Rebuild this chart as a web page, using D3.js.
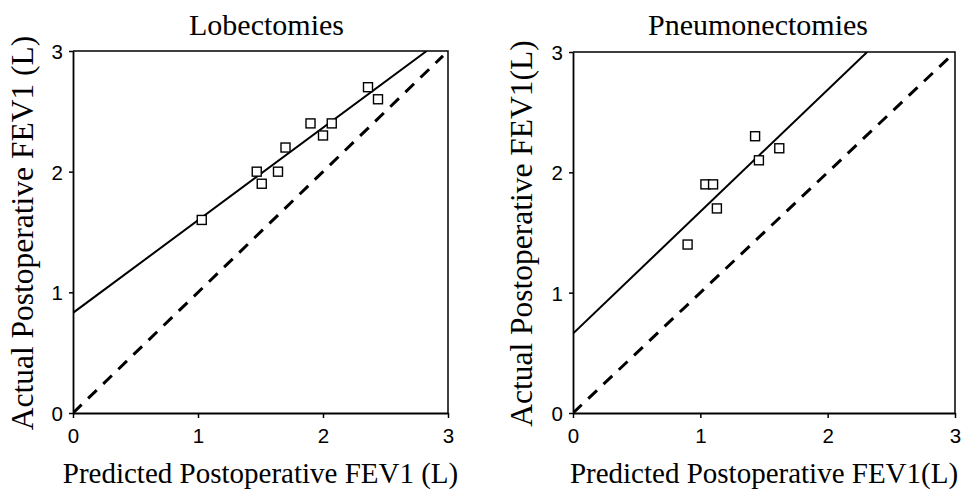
<!DOCTYPE html>
<html>
<head>
<meta charset="utf-8">
<script src="https://cdn.jsdelivr.net/npm/d3@7"></script>
<style>
  body { margin: 0; background: #fff; }
  .title, .axis-label { font-family: "Liberation Serif", "Times New Roman", serif; fill: #000; }
</style>
</head>
<body>
<svg id="chart" width="968" height="489"></svg>
<script>
// Lobectomies: predicted vs actual postoperative FEV1 (L)
var lobPredicted = [1.03, 1.47, 1.51, 1.64, 1.70, 1.90, 2.00, 2.07, 2.36, 2.44];
var lobActual    = [1.60, 2.00, 1.90, 2.00, 2.20, 2.40, 2.30, 2.40, 2.70, 2.60];
var lobFit = [0.83, 0.767];   // intercept, slope

// Pneumonectomies
var pneuPredicted = [0.90, 1.04, 1.10, 1.13, 1.43, 1.46, 1.62];
var pneuActual    = [1.40, 1.90, 1.90, 1.70, 2.30, 2.10, 2.20];
var pneuFit = [0.66, 1.013];

var tickValues = [0, 1, 2, 3];
var identityEnd = 2.96;

var panels = [
  {title: "Lobectomies", xs: lobPredicted, ys: lobActual, fit: lobFit,
   xlabel: "Predicted Postoperative FEV1 (L)", ylabel: "Actual Postoperative FEV1 (L)",
   left: 73, right: 448, top: 51, bottom: 413, ylabelX: 33},
  {title: "Pneumonectomies", xs: pneuPredicted, ys: pneuActual, fit: pneuFit,
   xlabel: "Predicted Postoperative FEV1(L)", ylabel: "Actual Postoperative FEV1(L)",
   left: 573, right: 955, top: 52, bottom: 413, ylabelX: 532}
];

var svg = d3.select("#chart");

panels.forEach(function(p, k) {
  var x = d3.scaleLinear().domain([0, 3]).range([p.left, p.right]);
  var y = d3.scaleLinear().domain([0, 3]).range([p.bottom, p.top]);
  var g = svg.append("g");

  var clipId = "clip" + k;
  g.append("clipPath").attr("id", clipId)
    .append("rect")
      .attr("x", p.left).attr("y", p.top)
      .attr("width", p.right - p.left).attr("height", p.bottom - p.top);

  // frame top and right
  g.append("path")
      .attr("d", "M" + p.left + "," + p.top + "H" + p.right + "V" + p.bottom)
      .style("fill", "none")
      .style("stroke", "#000")
      .style("stroke-width", 1.5);

  var xAxis = d3.axisBottom(x).tickValues(tickValues).tickFormat(d3.format("d"))
      .tickSizeInner(5).tickSizeOuter(0).tickPadding(10);
  var yAxis = d3.axisLeft(y).tickValues(tickValues).tickFormat(d3.format("d"))
      .tickSizeInner(4).tickSizeOuter(0).tickPadding(6);

  var xg = g.append("g")
      .attr("transform", "translate(0," + p.bottom + ")")
      .call(xAxis);
  xg.select(".domain").style("stroke-width", 2.2);
  xg.selectAll(".tick line").style("stroke-width", 1.5);
  xg.selectAll(".tick text").attr("dy", "0.71em");

  var yg = g.append("g")
      .attr("transform", "translate(" + p.left + ",0)")
      .call(yAxis);
  yg.select(".domain").style("stroke-width", 1.8);
  yg.selectAll(".tick line").style("stroke-width", 1.5);
  yg.selectAll(".tick text").attr("dy", "0.36em");

  g.selectAll(".tick text")
      .style("font-family", "'Liberation Sans', Arial, sans-serif")
      .style("font-size", "20.5px")
      .style("fill", "#000");

  var plot = g.append("g").attr("clip-path", "url(#" + clipId + ")");

  // identity line
  plot.append("line")
      .attr("x1", x(0)).attr("y1", y(0))
      .attr("x2", x(identityEnd)).attr("y2", y(identityEnd))
      .style("stroke", "#000")
      .style("stroke-width", 3)
      .style("stroke-dasharray", "12,9");

  // regression line
  var xEnd = (3 - p.fit[0]) / p.fit[1];
  plot.append("line")
      .attr("x1", x(0)).attr("y1", y(p.fit[0]))
      .attr("x2", x(xEnd)).attr("y2", y(3))
      .style("stroke", "#000")
      .style("stroke-width", 2);

  var pts = p.xs.map(function(v, i) { return {x: v, y: p.ys[i]}; });
  plot.selectAll(".pt")
      .data(pts)
    .enter().append("rect")
      .attr("class", "pt")
      .attr("x", function(d) { return x(d.x) - 4.5; })
      .attr("y", function(d) { return y(d.y) - 4.5; })
      .attr("width", 9)
      .attr("height", 9)
      .style("fill", "#fff")
      .style("stroke", "#000")
      .style("stroke-width", 1.4);

  var cx = (p.left + p.right) / 2;
  g.append("text")
      .attr("class", "title")
      .attr("x", cx + (k == 0 ? 6 : -6))
      .attr("y", 35)
      .style("text-anchor", "middle")
      .style("font-size", "30px")
      .text(p.title);

  g.append("text")
      .attr("class", "axis-label")
      .attr("x", cx)
      .attr("y", 483)
      .style("text-anchor", "middle")
      .style("font-size", "29px")
      .text(p.xlabel);

  g.append("text")
      .attr("class", "axis-label")
      .attr("transform", "translate(" + p.ylabelX + "," + ((p.top + p.bottom) / 2 + 1) + ") rotate(-90)")
      .style("text-anchor", "middle")
      .style("font-size", "31.5px")
      .text(p.ylabel);
});
</script>
</body>
</html>
